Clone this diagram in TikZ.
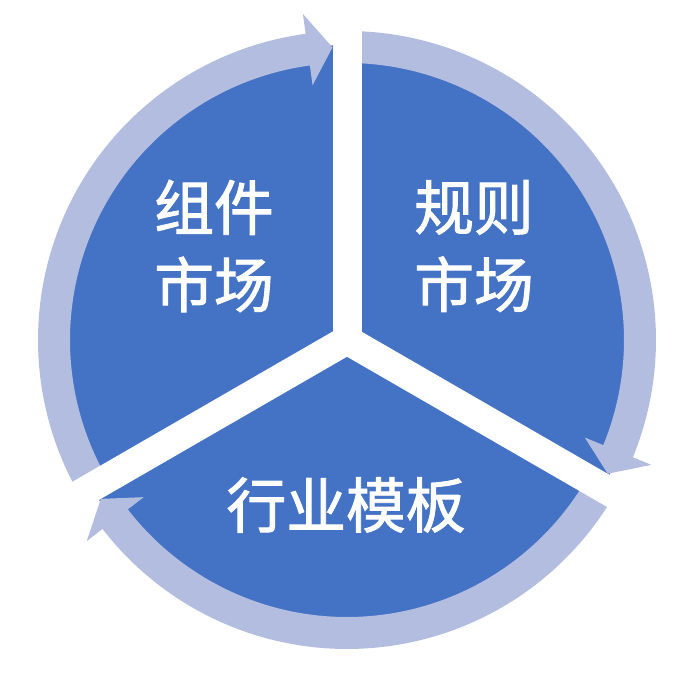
\documentclass[tikz,border=0pt]{standalone}
\usepackage{fontspec}
\newfontfamily\cjk[FakeBold=1.6]{Noto Sans CJK SC}
\usepackage{tkz-base}
\usepackage{tkz-euclide}
\definecolor{sectorazul}{HTML}{4472C4}
\definecolor{anilloazul}{HTML}{B3BDE0}
\tikzset{
  anillo/.style={fill=anilloazul},
  etiqueta/.style={text=white, align=center, inner sep=0pt,
    font=\cjk\fontsize{34}{44}\selectfont}
}

\begin{document}
\begin{tikzpicture}
        \useasboundingbox (-6.94,-6.8) rectangle (6.92,6.8);

        % Paso 1: Define el centro y los puntos de los tres sectores
        \tkzDefPoint(0,0){O} % Punto central
        \tkzDefPoint(90:5.9){A}
        \tkzDefPoint(210:5.9){B}
        \tkzDefPoint(330:5.9){C}

        % Paso 2: Rellena los tres sectores de azul
        \tkzFillSector[sectorazul](O,A)(B)
        \tkzFillSector[sectorazul](O,B)(C)
        \tkzFillSector[sectorazul](O,C)(A)

        % Paso 3: Dibuja las flechas circulares (sentido horario)
        \fill[anillo] (210:5.54) arc[start angle=210, end angle=97.7, radius=5.54]
            -- (97.7:5.14) -- (92.84:5.86) -- (97.7:6.58)
            -- (97.7:6.18) arc[start angle=97.7, end angle=210, radius=6.18] -- cycle;
        \fill[anillo] (90:5.54) arc[start angle=90, end angle=-22.3, radius=5.54]
            -- (-22.3:5.14) -- (-27.16:5.86) -- (-22.3:6.58)
            -- (-22.3:6.18) arc[start angle=-22.3, end angle=90, radius=6.18] -- cycle;
        \fill[anillo] (330:5.54) arc[start angle=330, end angle=217.7, radius=5.54]
            -- (217.7:5.14) -- (212.84:5.86) -- (217.7:6.58)
            -- (217.7:6.18) arc[start angle=217.7, end angle=330, radius=6.18] -- cycle;

        % Paso 4: Separa los sectores con franjas blancas
        \tkzDefPoint(90:7){D}
        \tkzDefPoint(210:7){E}
        \tkzDefPoint(330:7){F}
        \tkzDrawSegments[white, line width=0.58cm](O,D O,E O,F)

        % Paso 5: Escribe los textos de cada sector
        \node[etiqueta] (componentes) at (-2.66,1.88) {组件\\市场};
        \node[etiqueta] (reglas) at (2.54,1.88) {规则\\市场};
        \node[etiqueta] (plantillas) at (-0.02,-3.3) {行业模板};
    \end{tikzpicture}
\end{document}
